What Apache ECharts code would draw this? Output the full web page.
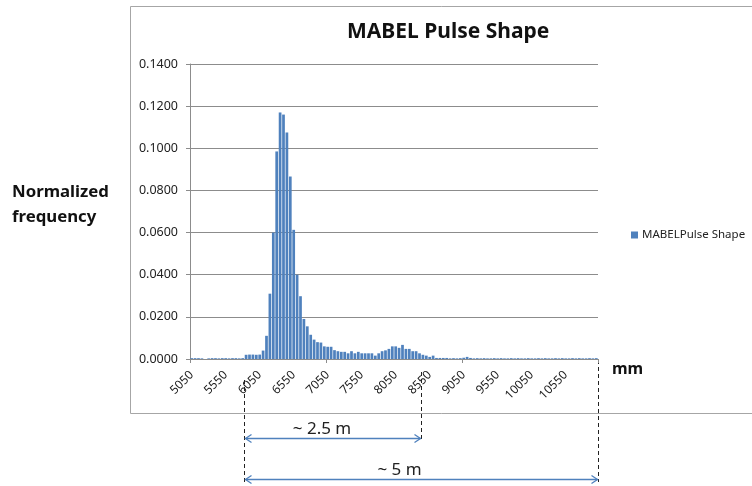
<!DOCTYPE html>
<html>
<head>
<meta charset="utf-8">
<script src="https://cdn.jsdelivr.net/npm/echarts@6/dist/echarts.min.js"></script>
<style>
  html, body { margin: 0; padding: 0; background: #fff; }
  #chart { width: 752px; height: 486px; }
</style>
</head>
<body>
<div id="chart"></div>
<script>
// bins of 50 mm (category names as on the x axis)
const categories = [
  '5050','5100','5150','5200','5250','5300','5350','5400','5450','5500',
  '5550','5600','5650','5700','5750','5800','5850','5900','5950','6000',
  '6050','6100','6150','6200','6250','6300','6350','6400','6450','6500',
  '6550','6600','6650','6700','6750','6800','6850','6900','6950','7000',
  '7050','7100','7150','7200','7250','7300','7350','7400','7450','7500',
  '7550','7600','7650','7700','7750','7800','7850','7900','7950','8000',
  '8050','8100','8150','8200','8250','8300','8350','8400','8450','8500',
  '8550','8600','8650','8700','8750','8800','8850','8900','8950','9000',
  '9050','9100','9150','9200','9250','9300','9350','9400','9450','9500',
  '9550','9600','9650','9700','9750','9800','9850','9900','9950','10000',
  '10050','10100','10150','10200','10250','10300','10350','10400','10450','10500',
  '10550','10600','10650','10700','10750','10800','10850','10900','10950','11000'
];

// normalized frequency
const pulseShape = [
  0.0004, 0.0004, 0.0004, 0.0003, 0.0000, 0.0003, 0.0004, 0.0004, 0.0003, 0.0004,
  0.0004, 0.0003, 0.0004, 0.0004, 0.0003, 0.0004, 0.0020, 0.0021, 0.0021, 0.0020,
  0.0021, 0.0040, 0.0110, 0.0310, 0.0600, 0.0985, 0.1170, 0.1160, 0.1075, 0.0866,
  0.0613, 0.0400, 0.0298, 0.0190, 0.0155, 0.0115, 0.0092, 0.0080, 0.0078, 0.0060,
  0.0058, 0.0058, 0.0042, 0.0037, 0.0034, 0.0034, 0.0027, 0.0037, 0.0027, 0.0034,
  0.0027, 0.0027, 0.0027, 0.0027, 0.0016, 0.0027, 0.0037, 0.0041, 0.0048, 0.0060,
  0.0060, 0.0053, 0.0067, 0.0048, 0.0048, 0.0037, 0.0037, 0.0027, 0.0020, 0.0016,
  0.0010, 0.0016, 0.0005, 0.0005, 0.0005, 0.0005, 0.0003, 0.0004, 0.0003, 0.0004,
  0.0006, 0.0010, 0.0005, 0.0003, 0.0004, 0.0003, 0.0004, 0.0003, 0.0003, 0.0004,
  0.0003, 0.0004, 0.0003, 0.0003, 0.0004, 0.0003, 0.0004, 0.0003, 0.0003, 0.0004,
  0.0003, 0.0003, 0.0004, 0.0003, 0.0004, 0.0003, 0.0003, 0.0004, 0.0003, 0.0004,
  0.0003, 0.0003, 0.0004, 0.0003, 0.0004, 0.0003, 0.0003, 0.0004, 0.0003, 0.0004
];

// span annotations under the axis (start bin, end bin or 'end', label)
const spanStart = '5850';
const spanEnds = ['8450', 'end'];
const spanLabels = ['~ 2.5 m', '~ 5 m'];

const FONT = 'Noto Sans';
const BLUE = '#4F81BD';
const GRID = '#8c8c8c';

const chart = echarts.init(document.getElementById('chart'));

chart.setOption({
  animation: false,
  title: {
    text: 'MABEL Pulse Shape',
    left: 342, top: 17,
    textStyle: { fontFamily: FONT, fontSize: 21, fontWeight: 'bold', color: '#111' }
  },
  legend: {
    left: 626, top: 224,
    icon: 'rect', itemWidth: 7, itemHeight: 7, itemGap: 4,
    textStyle: { fontFamily: FONT, fontSize: 11.5, color: '#222', padding: [0, 0, 0, -1] },
    data: ['MABELPulse Shape']
  },
  grid: { left: 190, right: 154, top: 64, bottom: 127 },
  xAxis: {
    type: 'category',
    data: categories,
    boundaryGap: true,
    name: 'mm',
    nameLocation: 'end',
    nameGap: 14,
    nameTextStyle: { fontFamily: FONT, fontSize: 16, fontWeight: 'bold', color: '#111',
                     verticalAlign: 'top', padding: [2, 0, 0, 0] },
    axisLine: { lineStyle: { color: GRID } },
    axisTick: { show: true, interval: 39, length: 4, lineStyle: { color: GRID } },
    axisLabel: { interval: 9, rotate: 45, fontFamily: FONT, fontSize: 12, color: '#222', margin: 14 }
  },
  yAxis: {
    type: 'value',
    min: 0, max: 0.14, interval: 0.02,
    axisLine: { show: true, lineStyle: { color: GRID } },
    axisTick: { show: true, length: 4, lineStyle: { color: GRID } },
    splitLine: { lineStyle: { color: GRID } },
    axisLabel: { fontFamily: FONT, fontSize: 12.5, color: '#222', margin: 12,
                 formatter: v => v.toFixed(4) }
  },
  series: [{
    name: 'MABELPulse Shape',
    type: 'bar',
    data: pulseShape,
    barCategoryGap: '20%',
    itemStyle: { color: BLUE }
  }]
});

// pixel x of the left edge of a bin (or the right end of the axis)
function edgeX(cat) {
  const c0 = chart.convertToPixel({ xAxisIndex: 0 }, categories[0]);
  const c1 = chart.convertToPixel({ xAxisIndex: 0 }, categories[1]);
  const band = c1 - c0;
  if (cat === 'end') {
    return chart.convertToPixel({ xAxisIndex: 0 }, categories[categories.length - 1]) + band / 2;
  }
  return chart.convertToPixel({ xAxisIndex: 0 }, cat) - band / 2;
}

const graphics = [
  // chart area frame
  { type: 'rect', silent: true, z: -1,
    shape: { x: 130.5, y: 6.5, width: 700, height: 407 },
    style: { fill: null, stroke: '#a6a6a6', lineWidth: 1 } },
  { type: 'text', left: 12, top: 180,
    style: { text: 'Normalized\nfrequency', fontFamily: FONT, fontSize: 16.8, fontWeight: 'bold',
             lineHeight: 25, fill: '#111' } }
];

const x0 = Math.round(edgeX(spanStart)) + 0.5;
const arrowY = [438.5, 479.5];
const dashTop = [372, 360];
const labelShift = [-11, -22];
const dash = { stroke: '#222', lineWidth: 1, lineDash: [4, 3] };
const arrow = { stroke: BLUE, lineWidth: 1.3, fill: null };

graphics.push({ type: 'line', shape: { x1: x0, y1: 380, x2: x0, y2: 482 }, style: dash });

spanEnds.forEach((end, i) => {
  const x1 = Math.round(edgeX(end)) + 0.5;
  const y = arrowY[i];
  graphics.push({ type: 'line', shape: { x1: x1, y1: dashTop[i], x2: x1, y2: i === 0 ? y + 1 : 482 }, style: dash });
  graphics.push({ type: 'line', shape: { x1: x0 + 1, y1: y, x2: x1 - 1, y2: y }, style: arrow });
  graphics.push({ type: 'polyline', shape: { points: [[x0 + 7, y - 4], [x0 + 1, y], [x0 + 7, y + 4]] }, style: arrow });
  graphics.push({ type: 'polyline', shape: { points: [[x1 - 7, y - 4], [x1 - 1, y], [x1 - 7, y + 4]] }, style: arrow });
  graphics.push({ type: 'text', x: (x0 + x1) / 2 + labelShift[i], y: y - 1,
    style: { text: spanLabels[i], fontFamily: FONT, fontSize: 17, fill: '#222',
             textAlign: 'center', textVerticalAlign: 'bottom' } });
});

chart.setOption({ graphic: graphics });
</script>
</body>
</html>
